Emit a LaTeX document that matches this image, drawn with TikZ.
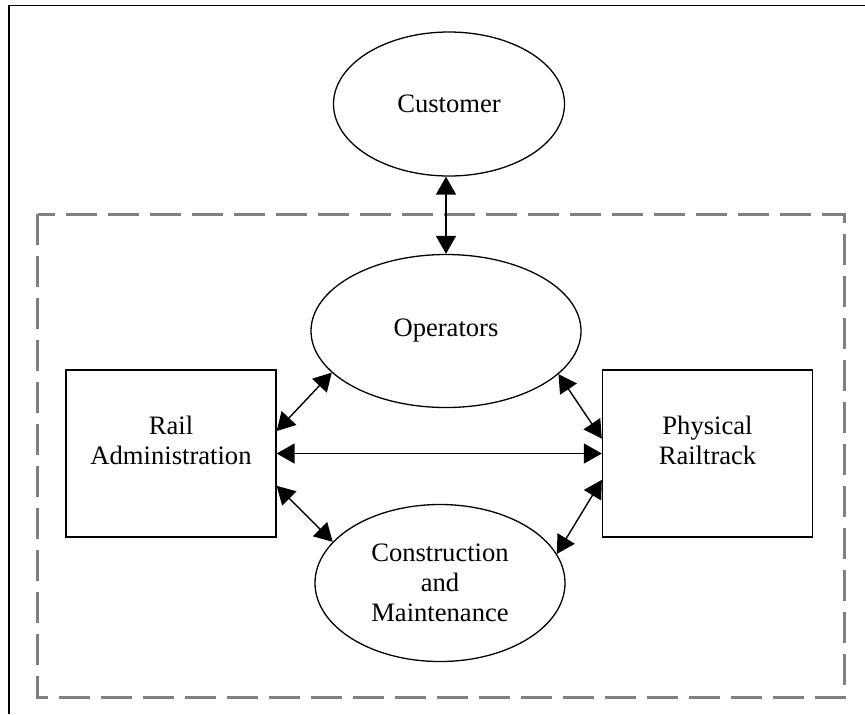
\documentclass[tikz,border=0pt]{standalone}
\usepackage{fontspec}
\setmainfont{Liberation Serif}
\usepackage{tikz}
\usetikzlibrary{arrows.meta,shapes.geometric}

\begin{document}
\begin{tikzpicture}[x=0.5pt,y=-0.5pt,>={Triangle[length=9pt,width=10pt]},
  oval/.style={ellipse,draw,line width=0.65pt,inner sep=0pt,align=center,font=\fontsize{13.3}{15}\selectfont},
  party/.style={rectangle,draw,line width=0.65pt,inner sep=0pt,align=center,minimum width=105pt,minimum height=83.5pt,text depth=13pt,font=\fontsize{13.3}{15}\selectfont},
  link/.style={<->,line width=0.7pt}]
  \useasboundingbox (0,0) rectangle (865,714);
  % frame and dashed boundary
  \draw[line width=0.8pt] (9,714) |- (865,5.5);
  \draw[gray,line width=1.5pt,dash pattern=on 15.5pt off 5.5pt] (37.5,214) rectangle (844,697);
  \node[oval,minimum width=115.5pt,minimum height=72pt] (cust) at (449,104) {Customer};
  \node[oval,minimum width=135pt,minimum height=76.5pt] (oper) at (446,331) {Operators};
  \node[oval,minimum width=125pt,minimum height=78.5pt] (cons) at (440,583) {Construction\\and\\Maintenance};
  \node[party] (rail) at (171,453.5) {Rail\\Administration};
  \node[party] (phys) at (707.5,453.5) {Physical\\Railtrack};
  \draw[link] (oper.north) -- (oper.north |- cust.south);
  \draw[link] (oper.200) -- (rail.12.5);
  \draw[link] (oper.-21.5) -- (phys.172.8);
  \draw[link] (rail.east) -- (phys.west);
  \draw[link] (rail.-17.5) -- (cons.159.2);
  \draw[link] (phys.194.4) -- (cons.14.8);
\end{tikzpicture}
\end{document}
